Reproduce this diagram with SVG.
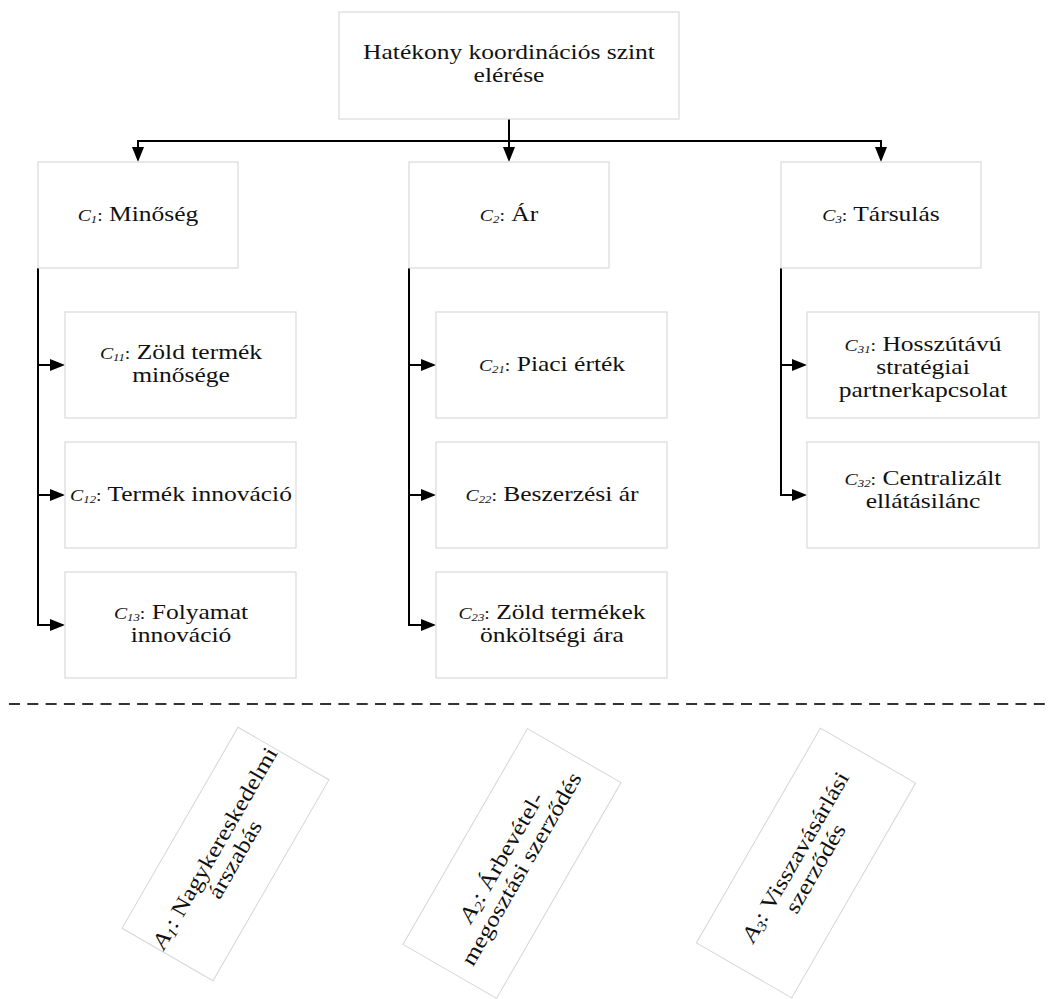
<svg xmlns="http://www.w3.org/2000/svg" width="1059" height="999" viewBox="0 0 1059 999">
<style>
.box{fill:#fff;stroke:#dadada;stroke-width:1.2}
.rbox{fill:#fff;stroke:#d6d6d6;stroke-width:1}
.t{font-family:"Liberation Serif","Times New Roman",serif;font-size:22px;fill:#111;text-anchor:middle}
.c{font-style:italic;font-size:17px}
.s{font-style:italic;font-size:11px}
.k{font-size:17px}
.a{font-style:italic}
.as{font-style:italic;font-size:14px}
.con{fill:none;stroke:#000;stroke-width:2}
.dash{fill:none;stroke:#333;stroke-width:2;stroke-dasharray:11 7.3}
</style>
<defs>
<marker id="arr" markerUnits="userSpaceOnUse" markerWidth="15" markerHeight="12" viewBox="0 0 15 12" refX="0" refY="6" orient="auto">
<path d="M0 0L15 6L0 12z" fill="#000"/>
</marker>
</defs>
<rect width="1059" height="999" fill="#fff"/>
<g id="connectors">
<path class="con" d="M138 141H881"/>
<path class="con" d="M509 119V147" marker-end="url(#arr)"/>
<path class="con" d="M138 140V147" marker-end="url(#arr)"/>
<path class="con" d="M881 140V147" marker-end="url(#arr)"/>
<path class="con" d="M38 268V625H50" marker-end="url(#arr)"/>
<path class="con" d="M38 365H50" marker-end="url(#arr)"/>
<path class="con" d="M38 495H50" marker-end="url(#arr)"/>
<path class="con" d="M409 268V625H421" marker-end="url(#arr)"/>
<path class="con" d="M409 365H421" marker-end="url(#arr)"/>
<path class="con" d="M409 495H421" marker-end="url(#arr)"/>
<path class="con" d="M781 268V495H792" marker-end="url(#arr)"/>
<path class="con" d="M781 365H792" marker-end="url(#arr)"/>
<path class="dash" d="M9 704H1052"/>
</g>
<g id="goal">
<rect class="box" x="339" y="12" width="340" height="107"/>
<text class="t" transform="translate(509 0) scale(1.16 1)"><tspan x="0" y="59">Hatékony koordinációs szint</tspan><tspan x="0" y="82">elérése</tspan></text>
</g>
<g id="C1">
<rect class="box" x="38" y="162" width="200" height="106"/>
<text class="t" transform="translate(138 0) scale(1.16 1)" y="221"><tspan class="c">C</tspan><tspan class="s" dy="2">1</tspan><tspan class="k" dy="-2">:</tspan> Minőség</text>
</g>
<g id="C2">
<rect class="box" x="409" y="162" width="200" height="106"/>
<text class="t" transform="translate(509 0) scale(1.16 1)" y="221"><tspan class="c">C</tspan><tspan class="s" dy="2">2</tspan><tspan class="k" dy="-2">:</tspan> Ár</text>
</g>
<g id="C3">
<rect class="box" x="781" y="162" width="200" height="106"/>
<text class="t" transform="translate(881 0) scale(1.16 1)" y="221"><tspan class="c">C</tspan><tspan class="s" dy="2">3</tspan><tspan class="k" dy="-2">:</tspan> Társulás</text>
</g>
<g id="C11">
<rect class="box" x="65" y="312" width="231" height="106"/>
<text class="t" transform="translate(181 0) scale(1.16 1)"><tspan x="0" y="359"><tspan class="c">C</tspan><tspan class="s" dy="2">11</tspan><tspan class="k" dy="-2">:</tspan> Zöld termék</tspan><tspan x="0" y="382">minősége</tspan></text>
</g>
<g id="C12">
<rect class="box" x="65" y="442" width="231" height="106"/>
<text class="t" transform="translate(181 0) scale(1.16 1)" y="501"><tspan class="c">C</tspan><tspan class="s" dy="2">12</tspan><tspan class="k" dy="-2">:</tspan> Termék innováció</text>
</g>
<g id="C13">
<rect class="box" x="65" y="572" width="231" height="106"/>
<text class="t" transform="translate(181 0) scale(1.16 1)"><tspan x="0" y="619"><tspan class="c">C</tspan><tspan class="s" dy="2">13</tspan><tspan class="k" dy="-2">:</tspan> Folyamat</tspan><tspan x="0" y="642">innováció</tspan></text>
</g>
<g id="C21">
<rect class="box" x="436" y="312" width="231" height="106"/>
<text class="t" transform="translate(552 0) scale(1.16 1)" y="371"><tspan class="c">C</tspan><tspan class="s" dy="2">21</tspan><tspan class="k" dy="-2">:</tspan> Piaci érték</text>
</g>
<g id="C22">
<rect class="box" x="436" y="442" width="231" height="106"/>
<text class="t" transform="translate(552 0) scale(1.16 1)" y="501"><tspan class="c">C</tspan><tspan class="s" dy="2">22</tspan><tspan class="k" dy="-2">:</tspan> Beszerzési ár</text>
</g>
<g id="C23">
<rect class="box" x="436" y="572" width="231" height="106"/>
<text class="t" transform="translate(552 0) scale(1.16 1)"><tspan x="0" y="619"><tspan class="c">C</tspan><tspan class="s" dy="2">23</tspan><tspan class="k" dy="-2">:</tspan> Zöld termékek</tspan><tspan x="0" y="642">önköltségi ára</tspan></text>
</g>
<g id="C31">
<rect class="box" x="807" y="312" width="232" height="106"/>
<text class="t" transform="translate(923 0) scale(1.16 1)"><tspan x="0" y="351"><tspan class="c">C</tspan><tspan class="s" dy="2">31</tspan><tspan class="k" dy="-2">:</tspan> Hosszútávú</tspan><tspan x="0" y="374">stratégiai</tspan><tspan x="0" y="397">partnerkapcsolat</tspan></text>
</g>
<g id="C32">
<rect class="box" x="807" y="442" width="232" height="106"/>
<text class="t" transform="translate(923 0) scale(1.16 1)"><tspan x="0" y="485"><tspan class="c">C</tspan><tspan class="s" dy="2">32</tspan><tspan class="k" dy="-2">:</tspan> Centralizált</tspan><tspan x="0" y="508">ellátásilánc</tspan></text>
</g>
<g id="A1" transform="translate(225.5 854) rotate(-60)">
<rect class="rbox" x="-116" y="-52.5" width="232" height="105"/>
<text class="t" transform="scale(1.16 1)"><tspan x="0" y="-5"><tspan class="a">A</tspan><tspan class="as" dy="3">1</tspan><tspan dy="-3">: Nagykereskedelmi</tspan></tspan><tspan x="0" y="18">árszabás</tspan></text>
</g>
<g id="A2" transform="translate(512 863.5) rotate(-60)">
<rect class="rbox" x="-124.5" y="-54" width="249" height="108"/>
<text class="t" transform="scale(1.16 1)"><tspan x="0" y="-5"><tspan class="a">A</tspan><tspan class="as" dy="3">2</tspan><tspan dy="-3">: Árbevétel-</tspan></tspan><tspan x="0" y="18">megosztási szerződés</tspan></text>
</g>
<g id="A3" transform="translate(806 863) rotate(-60)">
<rect class="rbox" x="-124" y="-55" width="248" height="110"/>
<text class="t" transform="scale(1.16 1)"><tspan x="0" y="-5"><tspan class="a">A</tspan><tspan class="as" dy="3">3</tspan><tspan dy="-3">: Visszavásárlási</tspan></tspan><tspan x="0" y="18">szerződés</tspan></text>
</g>
</svg>
